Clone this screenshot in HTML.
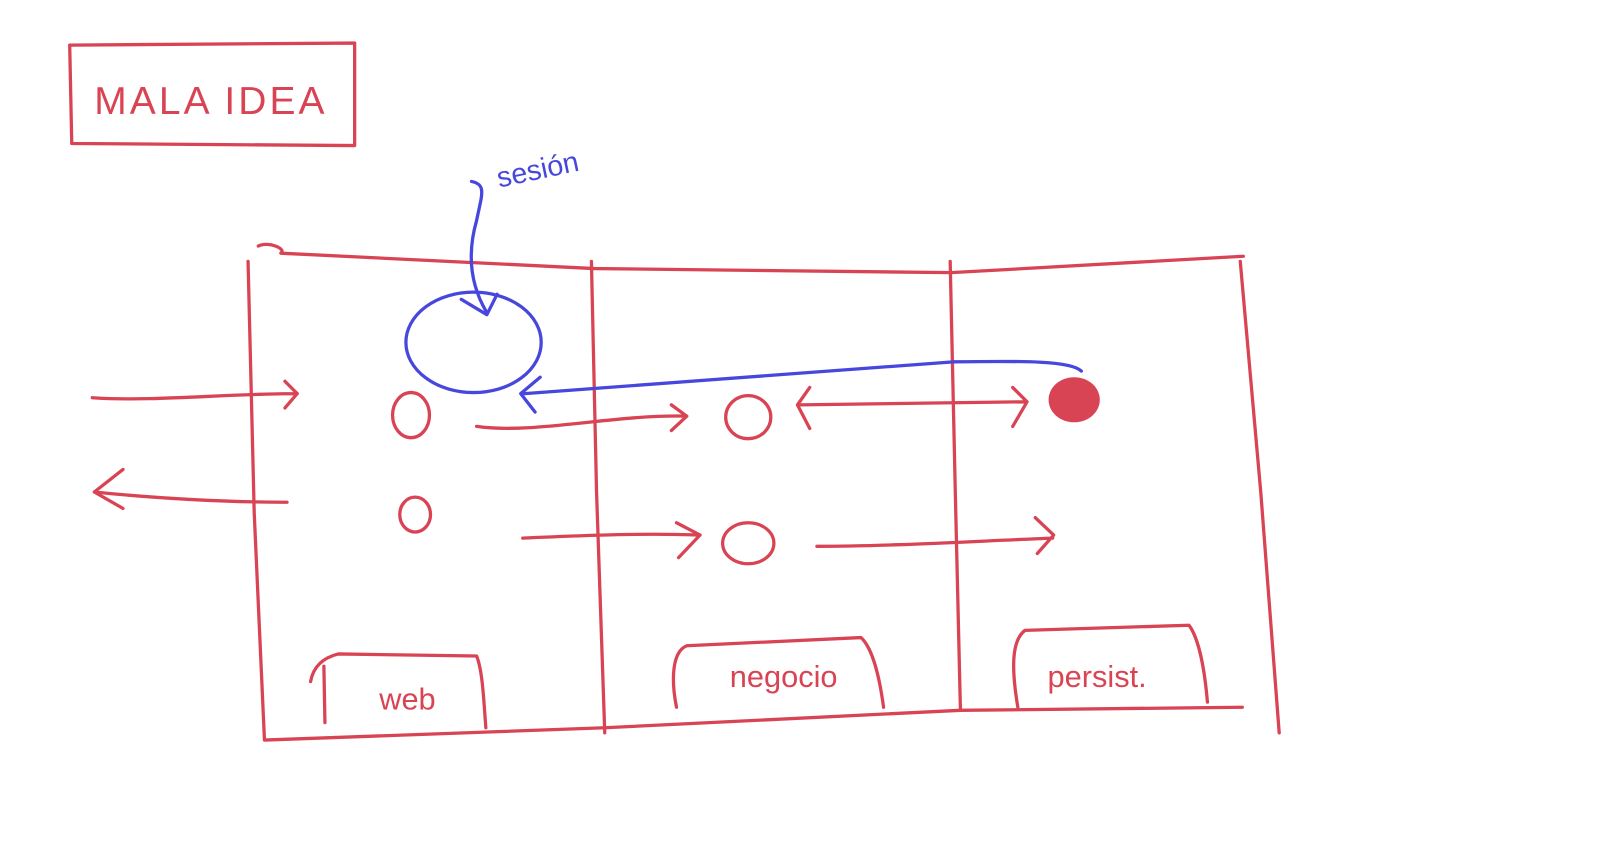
<!DOCTYPE html>
<html><head><meta charset="utf-8"><style>
html,body{margin:0;padding:0;background:#fff;}
svg{display:block}
.r{fill:none;stroke:#d94454;stroke-width:3.2;stroke-linecap:round;stroke-linejoin:round}
.b{fill:none;stroke:#4747dd;stroke-width:3.2;stroke-linecap:round;stroke-linejoin:round}
.tr{fill:#d94454;font-family:"Liberation Sans",sans-serif}
.tb{fill:#4747dd;font-family:"Liberation Sans",sans-serif}
</style></head><body>
<svg width="1600" height="847" viewBox="0 0 1600 847">
<g transform="scale(1.025)">
<g>
<path class="r" d="M68,44 L346,42 L346,142 L70,140 Z"/>
<text class="tr" x="92" y="111" font-size="38" letter-spacing="3">MALA  IDEA</text>
</g>
<g>
<path class="r" d="M252,240 C262,235 280,243 274,247 L580,262 L928,266 L1213,250"/>
<path class="r" d="M242,255 L248,500 L258,722 L590,710 L937,693 L1212,690"/>
<path class="r" d="M1210,255 L1230,480 L1248,715"/>
<path class="r" d="M577,255 L582,480 L590,715"/>
<path class="r" d="M927,255 L932,480 L937,693"/>
</g>
<g>
<path class="r" d="M303,665 C306,648 318,641 330,638 L465,640 C471,655 472,685 474,710 M316,650 L317,705"/>
<text class="tr" x="370" y="692" font-size="30">web</text>
</g>
<g>
<path class="r" d="M660,690 C655,665 655,636 670,630 L840,622 C851,632 858,660 862,690"/>
<text class="tr" x="712" y="670" font-size="30">negocio</text>
</g>
<g>
<path class="r" d="M993,690 C988,660 985,626 1000,615 L1160,610 C1169,622 1175,650 1178,685"/>
<text class="tr" x="1022" y="670" font-size="30">persist.</text>
</g>
<g>
<path class="r" d="M90,388 C150,392 220,384 290,384 M278,372 L290,384 L278,398"/>
<path class="r" d="M280,490 C220,490 150,486 92,480 M120,458 L92,480 L120,496"/>
<path class="r" d="M465,416 C520,424 600,404 670,406 M655,395 L670,406 L655,420"/>
<path class="r" d="M510,525 C580,522 630,520 683,522 M660,510 L683,522 L662,544"/>
<path class="r" d="M790,378 L778,395 L790,418 M780,395 L1000,392 M988,378 L1002,392 L988,416"/>
<path class="r" d="M797,533 C870,533 950,528 1027,525 M1010,505 L1028,522 L1012,540"/>
</g>
<g>
<ellipse class="r" cx="401" cy="405" rx="18" ry="22"/>
<ellipse class="r" cx="405" cy="502" rx="15" ry="17"/>
<ellipse class="r" cx="730" cy="407" rx="22" ry="21"/>
<ellipse class="r" cx="730" cy="530" rx="25" ry="20"/>
<ellipse cx="1048" cy="390" rx="25" ry="22" fill="#d94454"/>
</g>
<g>
<ellipse class="b" cx="462" cy="334" rx="66" ry="49"/>
<path class="b" d="M1055,362 C1045,352 1000,352 930,353 L512,384 M527,368 L508,384 L522,402"/>
<path class="b" d="M460,177 C475,180 470,190 465,215 C455,250 460,280 475,305 M450,292 L475,307 L485,287"/>
<text class="tb" x="487" y="183" font-size="28" transform="rotate(-12 487 183)">sesión</text>
</g>
</g>
</svg>
</body></html>
